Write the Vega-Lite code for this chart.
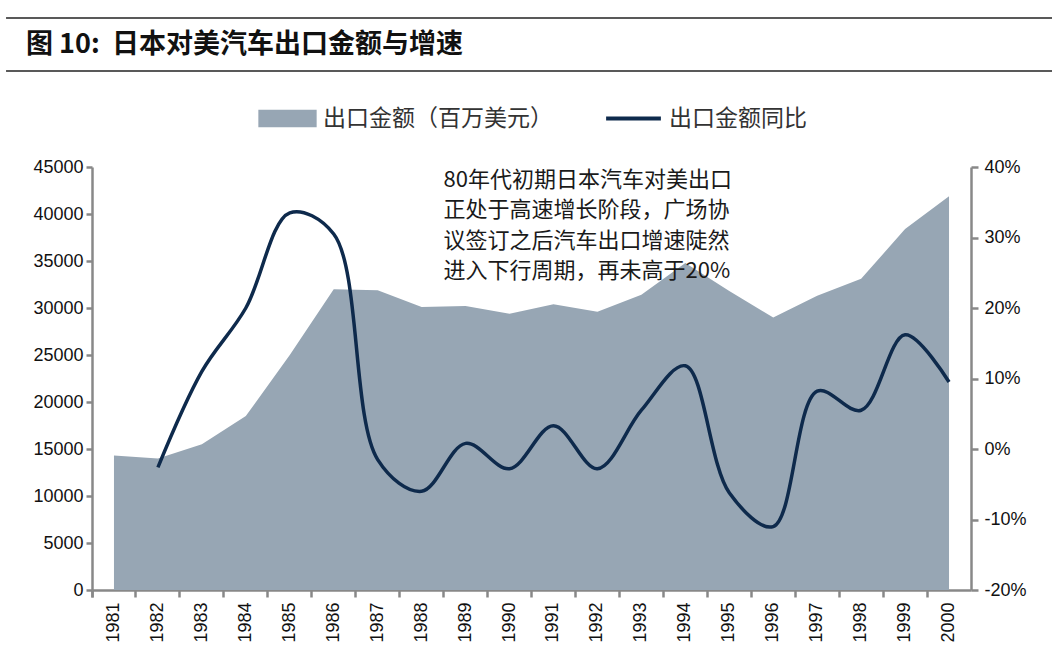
{
  "$schema": "https://vega.github.io/schema/vega-lite/v6.json",
  "padding": {"left": 5, "top": 17, "right": 0, "bottom": 0},
  "background": "white",
  "config": {"view": {"stroke": null}},
  "spacing": 86,
  "vconcat": [
    {
      "width": 961,
      "height": 53,
      "layer": [
        {
          "data": {"values": [{"edge": 0}, {"edge": 1}]},
          "mark": {"type": "rule", "color": "#222", "strokeWidth": 1.5},
          "encoding": {
            "y": {"field": "edge", "type": "quantitative", "scale": {"domain": [0, 1]}, "axis": null},
            "x": {"datum": 0, "type": "quantitative", "scale": {"domain": [0.0821, 1], "nice": false, "zero": false}, "axis": null},
            "x2": {"datum": 1}
          }
        },
        {
          "data": {"values": [{"title": "图 10:\u00a0\u00a0日本对美汽车出口金额与增速"}]},
          "mark": {"type": "text", "align": "left", "baseline": "middle", "font": "Noto Sans CJK SC", "fontSize": 27, "fontWeight": "bold", "color": "#111"},
          "encoding": {
            "text": {"field": "title"},
            "x": {"datum": 0.019, "type": "quantitative"},
            "y": {"datum": 0.5, "type": "quantitative"}
          }
        }
      ]
    },
    {
      "width": 879,
      "height": 423,
      "data": {
        "values": [
          {"year": "1981", "amount": 14300, "growth": null},
          {"year": "1982", "amount": 14000, "growth": -0.026},
          {"year": "1983", "amount": 15500, "growth": 0.11},
          {"year": "1984", "amount": 18500, "growth": 0.20},
          {"year": "1985", "amount": 25000, "growth": 0.335},
          {"year": "1986", "amount": 32000, "growth": 0.305},
          {"year": "1987", "amount": 31900, "growth": -0.015},
          {"year": "1988", "amount": 30100, "growth": -0.06},
          {"year": "1989", "amount": 30200, "growth": 0.008},
          {"year": "1990", "amount": 29400, "growth": -0.028},
          {"year": "1991", "amount": 30400, "growth": 0.033},
          {"year": "1992", "amount": 29600, "growth": -0.028},
          {"year": "1993", "amount": 31400, "growth": 0.055},
          {"year": "1994", "amount": 34800, "growth": 0.118},
          {"year": "1995", "amount": 31800, "growth": -0.062},
          {"year": "1996", "amount": 29000, "growth": -0.11},
          {"year": "1997", "amount": 31300, "growth": 0.082},
          {"year": "1998", "amount": 33100, "growth": 0.055},
          {"year": "1999", "amount": 38400, "growth": 0.162},
          {"year": "2000", "amount": 41900, "growth": 0.095}
        ]
      },
      "encoding": {
        "x": {
          "field": "year",
          "type": "ordinal",
          "bandPosition": 0.5,
          "scale": {"type": "band", "paddingInner": 0, "paddingOuter": 0},
          "axis": {
            "title": null,
            "labelAngle": -90,
            "labelAlign": "right",
            "labelBaseline": "middle",
            "bandPosition": 0,
            "tickExtra": true,
            "labelFont": "Liberation Sans",
            "labelFontSize": 18,
            "labelColor": "#111",
            "labelPadding": 5,
            "domainColor": "#888",
            "domainWidth": 2.5,
            "tickColor": "#888",
            "tickWidth": 2.5,
            "tickSize": 7
          }
        }
      },
      "layer": [
        {
          "mark": {"type": "area", "interpolate": "linear"},
          "encoding": {
            "y": {
              "field": "amount",
              "type": "quantitative",
              "scale": {"domain": [0, 45000], "nice": false},
              "axis": {
                "title": null,
                "values": [0, 5000, 10000, 15000, 20000, 25000, 30000, 35000, 40000, 45000],
                "format": "d",
                "grid": false,
                "labelFont": "Liberation Sans",
                "labelFontSize": 18,
                "labelColor": "#111",
                "labelPadding": 3,
                "domainColor": "#888",
                "domainWidth": 2.5,
                "tickColor": "#888",
                "tickWidth": 2.5,
                "tickSize": 6,
                "minExtent": 86
              }
            },
            "color": {
              "datum": "出口金额（百万美元）",
              "scale": {"range": ["#97A6B4"]},
              "legend": {
                "orient": "none",
                "legendX": 166,
                "legendY": 71,
                "title": null,
                "symbolType": "M-1,-0.3H1V0.3H-1Z",
                "symbolSize": 3400,
                "symbolStrokeWidth": 0,
                "symbolOpacity": 1,
                "labelFont": "Noto Sans CJK SC",
                "labelFontSize": 23,
                "labelColor": "#333",
                "labelOffset": 6,
                "labelLimit": 400
              }
            }
          }
        },
        {
          "mark": {"type": "line", "interpolate": "catmull-rom", "strokeWidth": 3.5},
          "encoding": {
            "y": {
              "field": "growth",
              "type": "quantitative",
              "scale": {"domain": [-0.2, 0.4], "nice": false},
              "axis": {
                "title": null,
                "orient": "right",
                "values": [-0.2, -0.1, 0, 0.1, 0.2, 0.3, 0.4],
                "labelExpr": "round(datum.value * 100) + '%'",
                "grid": false,
                "labelFont": "Liberation Sans",
                "labelFontSize": 18,
                "labelColor": "#111",
                "labelPadding": 6,
                "domainColor": "#888",
                "domainWidth": 2.5,
                "tickColor": "#888",
                "tickWidth": 2.5,
                "tickSize": 7
              }
            },
            "stroke": {
              "datum": "出口金额同比",
              "scale": {"range": ["#0E2A4C"]},
              "legend": {
                "orient": "none",
                "legendX": 512,
                "legendY": 71,
                "title": null,
                "symbolType": "stroke",
                "symbolSize": 3000,
                "symbolStrokeWidth": 4,
                "labelFont": "Noto Sans CJK SC",
                "labelFontSize": 23,
                "labelColor": "#333",
                "labelOffset": 6,
                "labelLimit": 400
              }
            }
          }
        },
        {
          "data": {"values": [{"note": "x"}]},
          "mark": {
            "type": "text",
            "align": "left",
            "baseline": "top",
            "font": "Noto Sans CJK SC",
            "fontSize": 22,
            "lineHeight": 30.5,
            "color": "#1a1a1a",
            "text": ["80年代初期日本汽车对美出口", "正处于高速增长阶段，广场协", "议签订之后汽车出口增速陡然", "进入下行周期，再未高于20%"]
          },
          "encoding": {
            "x": {"datum": "1989", "bandPosition": 0},
            "y": {"datum": 44700, "scale": {"domain": [0, 45000], "nice": false}, "axis": null}
          }
        }
      ],
      "resolve": {"scale": {"y": "independent"}}
    }
  ]
}
